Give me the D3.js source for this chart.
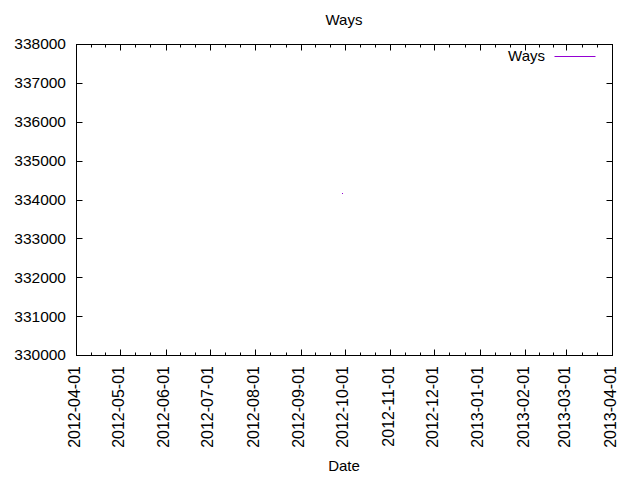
<!DOCTYPE html>
<html>
<head>
<meta charset="utf-8">
<script src="https://cdn.jsdelivr.net/npm/d3@7"></script>
<style>
  body { margin: 0; background: #fff; }
  text { fill: #000; font-family: "Liberation Sans", Arial, sans-serif; }
</style>
</head>
<body>
<div id="chart"></div>
<script>
// Chart data
const dates = ['2012-09-29'];
const values = [334170];
const seriesName = 'Ways';
const xTickLabels = ['2012-04-01', '2012-05-01', '2012-06-01', '2012-07-01', '2012-08-01', '2012-09-01',
    '2012-10-01', '2012-11-01', '2012-12-01', '2013-01-01', '2013-02-01', '2013-03-01', '2013-04-01'];
const yTickValues = [330000, 331000, 332000, 333000, 334000, 335000, 336000, 337000, 338000];

const CONFIG = {
    width: 640,
    height: 480,
    left: 76, right: 612, top: 44, bottom: 355,
    lineColor: '#9400d3',
    fontSize: 15
};

const parse = d3.timeParse('%Y-%m-%d');
const tickDates = xTickLabels.map(parse);

const svg = d3.select('#chart')
    .append('svg')
    .attr('width', CONFIG.width)
    .attr('height', CONFIG.height)
    .attr('font-family', '"Liberation Sans", Arial, sans-serif');

const x = d3.scaleTime()
    .domain([tickDates[0], tickDates[tickDates.length - 1]])
    .range([CONFIG.left, CONFIG.right]);

const y = d3.scaleLinear()
    .domain([yTickValues[0], yTickValues[yTickValues.length - 1]])
    .range([CONFIG.bottom, CONFIG.top]);

// minor ticks: thirds of each month interval
const minorDates = [];
for (let i = 0; i < tickDates.length - 1; i++) {
    const a = +tickDates[i], b = +tickDates[i + 1];
    minorDates.push(new Date(a + (b - a) / 3), new Date(a + 2 * (b - a) / 3));
}

const g = svg.append('g').attr('transform', 'translate(0.5,0.5)');

// frame
g.append('rect')
    .attr('x', CONFIG.left)
    .attr('y', CONFIG.top)
    .attr('width', CONFIG.right - CONFIG.left)
    .attr('height', CONFIG.bottom - CONFIG.top)
    .attr('fill', 'none')
    .attr('stroke', '#000');

// x ticks (inward, mirrored on top)
const xMajor = 6, xMinor = 3;
tickDates.forEach(d => {
    const px = Math.round(x(d));
    g.append('line').attr('x1', px).attr('x2', px)
        .attr('y1', CONFIG.bottom).attr('y2', CONFIG.bottom - xMajor).attr('stroke', '#000');
    g.append('line').attr('x1', px).attr('x2', px)
        .attr('y1', CONFIG.top).attr('y2', CONFIG.top + xMajor).attr('stroke', '#000');
});
minorDates.forEach(d => {
    const px = Math.round(x(d));
    g.append('line').attr('x1', px).attr('x2', px)
        .attr('y1', CONFIG.bottom).attr('y2', CONFIG.bottom - xMinor).attr('stroke', '#000');
    g.append('line').attr('x1', px).attr('x2', px)
        .attr('y1', CONFIG.top).attr('y2', CONFIG.top + xMinor).attr('stroke', '#000');
});

// y ticks (inward, mirrored on right)
yTickValues.forEach(v => {
    const py = Math.round(y(v));
    g.append('line').attr('x1', CONFIG.left).attr('x2', CONFIG.left + xMajor)
        .attr('y1', py).attr('y2', py).attr('stroke', '#000');
    g.append('line').attr('x1', CONFIG.right).attr('x2', CONFIG.right - xMajor)
        .attr('y1', py).attr('y2', py).attr('stroke', '#000');
});

// y tick labels
svg.selectAll('.ylabel')
    .data(yTickValues)
    .enter()
    .append('text')
    .attr('class', 'ylabel')
    .attr('x', CONFIG.left - 10)
    .attr('y', d => y(d))
    .attr('dy', '0.35em')
    .attr('text-anchor', 'end')
    .style('font-size', '15.5px')
    .text(d => d);

// x tick labels, rotated and centred on the tick
svg.selectAll('.xlabel')
    .data(tickDates)
    .enter()
    .append('text')
    .attr('class', 'xlabel')
    .attr('transform', d => `translate(${x(d) + 3.5},${CONFIG.bottom + 11}) rotate(-90)`)
    .attr('text-anchor', 'end')
    .style('font-size', '16px')
    .text((d, i) => xTickLabels[i]);

// title and axis label
svg.append('text')
    .attr('x', (CONFIG.left + CONFIG.right) / 2)
    .attr('y', 25)
    .attr('text-anchor', 'middle')
    .style('font-size', CONFIG.fontSize + 'px')
    .text('Ways');

svg.append('text')
    .attr('x', (CONFIG.left + CONFIG.right) / 2)
    .attr('y', 471)
    .attr('text-anchor', 'middle')
    .style('font-size', CONFIG.fontSize + 'px')
    .text('Date');

// legend
svg.append('text')
    .attr('x', 545)
    .attr('y', 56)
    .attr('dy', '0.35em')
    .attr('text-anchor', 'end')
    .style('font-size', CONFIG.fontSize + 'px')
    .text(seriesName);
g.append('line')
    .attr('x1', 554).attr('x2', 595)
    .attr('y1', 56).attr('y2', 56)
    .attr('stroke', CONFIG.lineColor);

// data series
const points = dates.map((d, i) => ({ date: parse(d), value: values[i] }));
const line = d3.line()
    .x(d => Math.round(x(d.date)))
    .y(d => Math.round(y(d.value)));
g.append('path')
    .datum(points)
    .attr('d', d => line(d) + 'Z')
    .attr('fill', 'none')
    .attr('stroke', CONFIG.lineColor)
    .attr('stroke-width', 1)
    .attr('stroke-linecap', 'square');
</script>
</body>
</html>
